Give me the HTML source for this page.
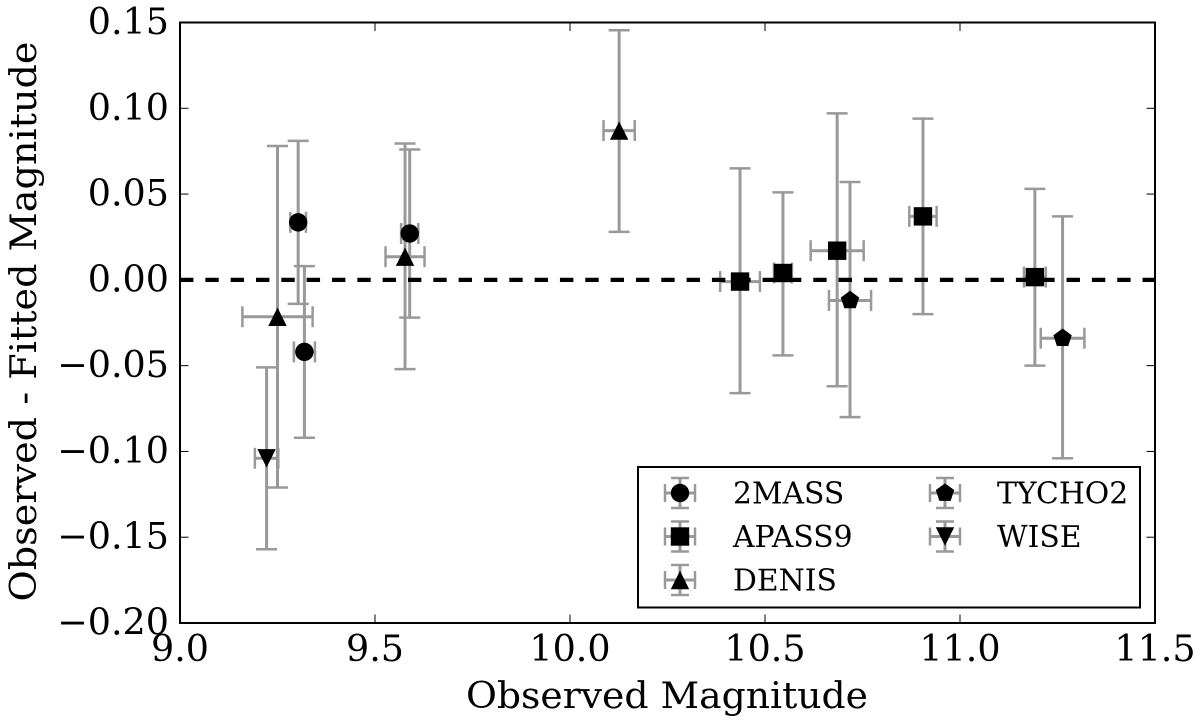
<!DOCTYPE html>
<html lang="en">
<head>
<meta charset="utf-8">
<title>Observed vs Fitted Magnitude</title>
<style>
html,body{margin:0;padding:0;background:#fff;}
svg{display:block;filter:blur(0.35px);}
text{font-family:"DejaVu Serif","Liberation Serif",serif;fill:#000;}
</style>
</head>
<body>
<svg id="chart" xmlns="http://www.w3.org/2000/svg" width="1200" height="721" viewBox="0 0 1200 721">
<rect x="0" y="0" width="1200" height="721" fill="#fff"/>
<g id="marks"></g>
<line id="zero-line" stroke="#000" stroke-width="4.3" stroke-dasharray="13.4 11.93"/>
<g id="points"></g>
<rect id="frame" fill="none" stroke="#000" stroke-width="2"/>
<g id="ticks"></g>
<text x="667" y="708" font-size="36" text-anchor="middle" textLength="402" lengthAdjust="spacingAndGlyphs">Observed Magnitude</text>
<text transform="translate(36,321.5) rotate(-90)" font-size="36" text-anchor="middle" textLength="560" lengthAdjust="spacingAndGlyphs">Observed - Fitted Magnitude</text>
<g id="legend"></g>
</svg>
<script>
const xTicks = [9.0, 9.5, 10.0, 10.5, 11.0, 11.5];
const xTickLabels = ["9.0", "9.5", "10.0", "10.5", "11.0", "11.5"];
const yTicks = [0.15, 0.10, 0.05, 0.00, -0.05, -0.10, -0.15, -0.20];
const yTickLabels = ["0.15", "0.10", "0.05", "0.00", "\u22120.05", "\u22120.10", "\u22120.15", "\u22120.20"];

const seriesNames = ["2MASS", "APASS9", "DENIS", "TYCHO2", "WISE"];

const mass2X = [9.303, 9.319, 9.589];
const mass2Y = [0.0335, -0.042, 0.027];
const mass2XErr = [0.020, 0.027, 0.022];
const mass2YUpper = [0.081, 0.008, 0.076];
const mass2YLower = [-0.014, -0.092, -0.022];

const apassX = [10.436, 10.546, 10.685, 10.905, 11.192];
const apassY = [-0.001, 0.004, 0.017, 0.037, 0.0016];
const apassXErr = [0.051, 0.023, 0.068, 0.035, 0.028];
const apassYUpper = [0.065, 0.051, 0.097, 0.094, 0.053];
const apassYLower = [-0.066, -0.044, -0.062, -0.020, -0.050];

const denisX = [9.25, 9.577, 10.126];
const denisY = [-0.0215, 0.0135, 0.087];
const denisXErr = [0.09, 0.05, 0.04];
const denisYUpper = [0.078, 0.0795, 0.1455];
const denisYLower = [-0.121, -0.052, 0.028];

const tychoX = [10.718, 11.263];
const tychoY = [-0.012, -0.034];
const tychoXErr = [0.054, 0.056];
const tychoYUpper = [0.057, 0.037];
const tychoYLower = [-0.080, -0.104];

const wiseX = [9.222];
const wiseY = [-0.104];
const wiseXErr = [0.03];
const wiseYUpper = [-0.051];
const wiseYLower = [-0.157];

const NS = "http://www.w3.org/2000/svg";
const plotLeft = 180, plotRight = 1155, plotTop = 22.5, plotBottom = 623;
const xMin = 9.0, xMax = 11.5, yMin = -0.20, yMax = 0.15;
const GREY = "#999999";

function xScale(v) { return plotLeft + (v - xMin) / (xMax - xMin) * (plotRight - plotLeft); }
function yScale(v) { return plotBottom - (v - yMin) / (yMax - yMin) * (plotBottom - plotTop); }

function make(tag, attrs, parent) {
  const el = document.createElementNS(NS, tag);
  for (const k in attrs) el.setAttribute(k, attrs[k]);
  parent.appendChild(el);
  return el;
}

function drawMarker(kind, cx, cy, parent, name) {
  let el;
  const r = 9.2;
  if (kind === "2MASS") {
    el = make("circle", { cx: cx, cy: cy, r: r }, parent);
  } else if (kind === "APASS9") {
    el = make("rect", { x: cx - r, y: cy - r, width: 2 * r, height: 2 * r }, parent);
  } else if (kind === "DENIS") {
    el = make("polygon", { points: [cx, cy - r, cx + r, cy + r, cx - r, cy + r].join(" ") }, parent);
  } else if (kind === "TYCHO2") {
    const pts = [];
    for (let i = 0; i < 5; i++) {
      const a = -Math.PI / 2 + i * 2 * Math.PI / 5;
      pts.push(cx + r * 1.05 * Math.cos(a), cy + r * 1.05 * Math.sin(a));
    }
    el = make("polygon", { points: pts.join(" ") }, parent);
  } else {
    el = make("polygon", { points: [cx - r, cy - r, cx + r, cy - r, cx, cy + r].join(" ") }, parent);
  }
  el.setAttribute("fill", "#000");
  
  
  return el;
}

function drawErrorBars(x1, x2, y1, y2, cx, cy, parent, name, capH, capV) {
  const g = make("g", { stroke: GREY, fill: "none" }, parent);
  
  
  make("line", { x1: cx, x2: cx, y1: y1, y2: y2, "stroke-width": 3 }, g);
  make("line", { x1: x1, x2: x2, y1: cy, y2: cy, "stroke-width": 3 }, g);
  make("line", { x1: cx - capV, x2: cx + capV, y1: y1, y2: y1, "stroke-width": 2.5 }, g);
  make("line", { x1: cx - capV, x2: cx + capV, y1: y2, y2: y2, "stroke-width": 2.5 }, g);
  make("line", { x1: x1, x2: x1, y1: cy - capH, y2: cy + capH, "stroke-width": 2.5 }, g);
  make("line", { x1: x2, x2: x2, y1: cy - capH, y2: cy + capH, "stroke-width": 2.5 }, g);
}

const seriesTable = [
  ["2MASS", mass2X, mass2Y, mass2XErr, mass2YUpper, mass2YLower],
  ["APASS9", apassX, apassY, apassXErr, apassYUpper, apassYLower],
  ["DENIS", denisX, denisY, denisXErr, denisYUpper, denisYLower],
  ["TYCHO2", tychoX, tychoY, tychoXErr, tychoYUpper, tychoYLower],
  ["WISE", wiseX, wiseY, wiseXErr, wiseYUpper, wiseYLower]
];

const marks = document.getElementById("marks");
const points = document.getElementById("points");
seriesTable.forEach(function (s) {
  const slug = s[0].toLowerCase();
  s[1].forEach(function (xv, i) {
    const cx = xScale(xv), cy = yScale(s[2][i]);
    drawErrorBars(xScale(xv - s[3][i]), xScale(xv + s[3][i]), yScale(s[4][i]), yScale(s[5][i]), cx, cy, marks, slug + "-error-bar-" + (i + 1), 10.5, 10.5);
    drawMarker(s[0], cx, cy, points, slug + "-point-" + (i + 1));
  });
});

const zero = document.getElementById("zero-line");
zero.setAttribute("x1", plotLeft);
zero.setAttribute("x2", plotRight);
zero.setAttribute("y1", yScale(0));
zero.setAttribute("y2", yScale(0));

const frame = document.getElementById("frame");
frame.setAttribute("x", plotLeft);
frame.setAttribute("y", plotTop);
frame.setAttribute("width", plotRight - plotLeft);
frame.setAttribute("height", plotBottom - plotTop);

const ticks = document.getElementById("ticks");
xTicks.forEach(function (v, i) {
  const x = xScale(v);
  if (i > 0 && i < xTicks.length - 1) {
    const t1 = make("line", { x1: x, x2: x, y1: plotBottom, y2: plotBottom - 8.5, stroke: "#000", "stroke-width": 1 }, ticks);
    
    
    const t2 = make("line", { x1: x, x2: x, y1: plotTop, y2: plotTop + 8.5, stroke: "#000", "stroke-width": 1 }, ticks);
    
    
  }
  const lab = make("text", { x: x, y: 661, "font-size": 36.5, "text-anchor": "middle" }, ticks);
  
  
  lab.textContent = xTickLabels[i];
});
yTicks.forEach(function (v, i) {
  const y = yScale(v);
  if (i > 0 && i < yTicks.length - 1) {
    const t1 = make("line", { x1: plotLeft, x2: plotLeft + 8.5, y1: y, y2: y, stroke: "#000", "stroke-width": 1 }, ticks);
    
    
    const t2 = make("line", { x1: plotRight, x2: plotRight - 8.5, y1: y, y2: y, stroke: "#000", "stroke-width": 1 }, ticks);
    
    
  }
  const lab = make("text", { x: 169, y: y + 11.5, "font-size": 36.5, "text-anchor": "end" }, ticks);
  
  
  lab.textContent = yTickLabels[i];
});

const legend = document.getElementById("legend");
const box = make("rect", { x: 638, y: 467, width: 502, height: 140.5, fill: "#fff", stroke: "#000", "stroke-width": 2 }, legend);


seriesNames.forEach(function (name, i) {
  const col = i < 3 ? 0 : 1;
  const row = i < 3 ? i : i - 3;
  const cx = col === 0 ? 680 : 945;
  const cy = 493 + row * 43.5;
  const slug = name.toLowerCase();
  drawErrorBars(cx - 15, cx + 15, cy - 15, cy + 15, cx, cy, legend, "legend-error-bar-" + slug, 9, 9);
  drawMarker(name, cx, cy, legend, "legend-marker-" + slug);
  const lab = make("text", { x: col === 0 ? 733 : 997, y: cy + 10.5, "font-size": 29.8 }, legend);
  
  
  lab.textContent = name;
});
</script>
</body>
</html>
